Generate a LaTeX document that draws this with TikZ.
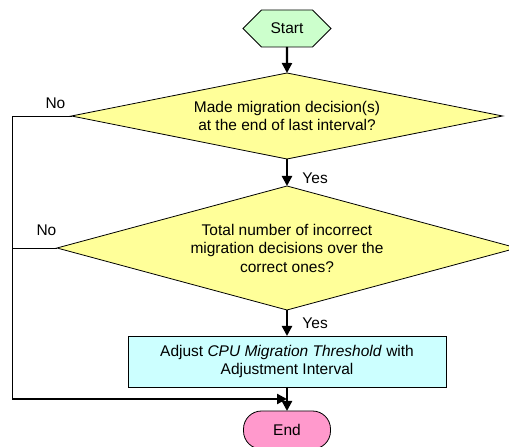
\documentclass[tikz,border=0pt]{standalone}
\usepackage{fontspec}
\setmainfont{Liberation Sans}
\usepackage{tikz}
\usetikzlibrary{arrows.meta,calc,%
                shapes.geometric,shapes.symbols,shapes.misc,positioning}
\definecolor{startgreen}{HTML}{CCFFCC}
\definecolor{askyellow}{HTML}{FFFF99}
\definecolor{stepcyan}{HTML}{CCFFFF}
\definecolor{endpink}{HTML}{FF99CC}

\begin{document}
\begin{tikzpicture}
  \tikzset{FlowArrow/.style = {line width=2.3pt,
                               -{Triangle[length=10pt,width=10pt]}},
           AskStyle/.style  = {shape          = diamond,
                               fill           = askyellow,
                               inner sep      = 0pt,
                               align          = center}}
  \useasboundingbox (0,0) rectangle (509pt,447pt);
    \begin{scope}[every node/.style={draw=black, line width=0.8pt, outer sep=0pt,
                  font=\fontsize{15.5}{18.5}\selectfont}]
	%%% DEBUT %%%
	\node[signal, signal to=east and west, fill=startgreen,
	      minimum width=88pt, minimum height=37pt, inner sep=1pt](start) at (287pt,418.5pt){Start};
	%%% QUESTIONS %%%
	\node[AskStyle, aspect=5, minimum width=431pt, minimum height=86pt,
	      below=26pt of start](ask1){Made migration decision(s)\\at the end of last interval?};
	\node[AskStyle, aspect=3.7, minimum width=460pt, minimum height=124pt,
	      below=27pt of ask1](ask2){Total number of incorrect\\migration decisions over the\\correct ones?};
	%%% AJUSTEMENT %%%
	\node[rectangle, fill=stepcyan, minimum width=318pt, minimum height=51pt,
	      align=center, below=26pt of ask2](adjust){Adjust \textit{CPU Migration Threshold} with\\Adjustment Interval};
	%%% FIN %%%
	\node[rectangle, rounded corners=18pt, fill=endpink, minimum width=87pt,
	      minimum height=38pt, below=24pt of adjust](end){End};
	\coordinate (bus) at (12pt,0);
	\coordinate (join) at ($(adjust.south)!0.5!(end.north)$);
	\end{scope}
	%%% FLECHES %%%
	\draw[FlowArrow](start) -- (ask1);
	\draw[FlowArrow](ask1) -- node[pos=0.7, right=11pt, font=\fontsize{15.5}{18.5}\selectfont]{Yes} (ask2);
	\draw[FlowArrow](ask2) -- node[pos=0.5, right=11pt, font=\fontsize{15.5}{18.5}\selectfont]{Yes} (adjust);
	\draw[FlowArrow](adjust) -- (end);
	%% BRANCHES NO
	\draw[line width=0.8pt](ask1.west) -- node[pos=0.27, above=4pt, font=\fontsize{15.5}{18.5}\selectfont]{No} (ask1.west -| bus) -- (bus |- join);
	\draw[line width=0.8pt](ask2.west) -- node[pos=0.02, above left=9pt and -4pt, font=\fontsize{15.5}{18.5}\selectfont]{No} (ask2.west -| bus);
	\draw[FlowArrow](bus |- join) -- (join);
\end{tikzpicture}
\end{document}
